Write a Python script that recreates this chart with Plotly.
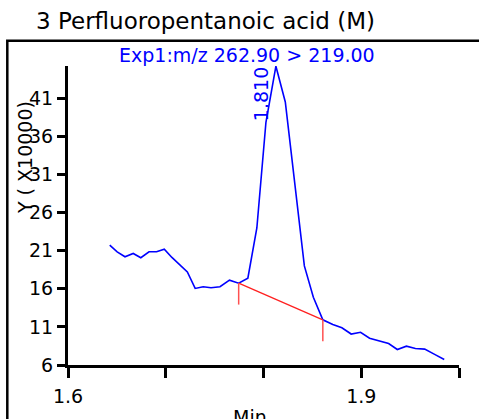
import plotly.graph_objects as go

# ---- data (intensity in units of 10000) ----
time_min = [1.6427, 1.6503, 1.6583, 1.6667, 1.6745, 1.6829, 1.6906, 1.6985, 1.7063,
            1.7142, 1.7221, 1.7301, 1.7383, 1.7463, 1.7555, 1.7652, 1.7746, 1.7840,
            1.7932, 1.8025, 1.8127, 1.8223, 1.8317, 1.8418, 1.8510, 1.8607, 1.8709,
            1.8802, 1.8897, 1.8993, 1.9085, 1.9188, 1.9280, 1.9369, 1.9462, 1.9554,
            1.9649, 1.9746, 1.9849]
intensity = [21.71, 20.84, 20.19, 20.62, 20.06, 20.84, 20.84, 21.19, 20.10,
             19.19, 18.21, 16.04, 16.26, 16.13, 16.26, 17.12, 16.73, 17.38,
             23.96, 37.82, 45.17, 40.49, 29.81, 18.99, 14.87, 11.92, 11.32,
             10.88, 10.06, 10.29, 9.51, 9.19, 8.81, 8.03, 8.47, 8.16,
             8.08, 7.43, 6.73]
baseline_t = [1.7746, 1.8607]
baseline_y = [16.73, 11.92]
marker_bottom = [13.92, 9.12]
peak_label = "1.810"
peak_t = 1.8127
peak_y = 45.17
y_ticks = [6, 11, 16, 21, 26, 31, 36, 41]
x_ticks = [1.6, 1.7, 1.8, 1.9, 2.0]
x_ticktext = ["1.6", "", "", "1.9", ""]

title_text = "3 Perfluoropentanoic acid (M)"
sub_text = "Exp1:m/z 262.90 > 219.00"
y_title = "Y ( X10000)"
x_title = "Min"

FONT = "DejaVu Sans"
W, H = 479, 419
ML, MR, MT, MB = 68, 20, 66, 51
PW, PH = W - ML - MR, H - MT - MB

def px_x(p):
    return (p - ML) / PW

def px_y(p):
    return (H - MB - p) / PH

fig = go.Figure()
fig.add_trace(go.Scatter(x=time_min, y=intensity, mode="lines",
                         line=dict(color="#0000ff", width=1.6), hoverinfo="skip"))
fig.add_trace(go.Scatter(x=baseline_t, y=baseline_y, mode="lines",
                         line=dict(color="#ff2020", width=1.3), hoverinfo="skip"))
for t, y0, y1 in zip(baseline_t, baseline_y, marker_bottom):
    fig.add_trace(go.Scatter(x=[t, t], y=[y0, y1], mode="lines",
                             line=dict(color="#ff5050", width=1.5), hoverinfo="skip"))

fig.update_layout(
    width=W, height=H, showlegend=False,
    margin=dict(l=ML, r=MR, t=MT, b=MB),
    paper_bgcolor="white", plot_bgcolor="white",
    font=dict(family=FONT, size=19, color="black"),
    xaxis=dict(range=[1.6, 2.0], showgrid=False, zeroline=False, showline=True,
               linecolor="black", linewidth=3, ticks="outside", ticklen=10,
               tickwidth=3, tickcolor="black", tickvals=x_ticks, ticktext=x_ticktext,
               tickfont=dict(size=19, family=FONT), ticklabelstandoff=2),
    yaxis=dict(range=[6, 45.2], showgrid=False, zeroline=False, showline=True,
               linecolor="black", linewidth=3, ticks="outside", ticklen=8,
               tickwidth=2.5, tickcolor="black", tickvals=y_ticks,
               tickfont=dict(size=19, family=FONT), ticklabelstandoff=0),
)

# frame rectangle (extends past right/bottom edge)
fig.add_shape(type="rect", xref="paper", yref="paper",
              x0=px_x(7.3), x1=px_x(490), y0=px_y(430), y1=px_y(40.5),
              line=dict(color="black", width=2.5), fillcolor="rgba(0,0,0,0)", layer="above")

fig.add_annotation(text=title_text, xref="paper", yref="paper", x=px_x(34), y=px_y(21),
                   xanchor="left", yanchor="middle", showarrow=False,
                   font=dict(size=23, family=FONT, color="black"))
fig.add_annotation(text=sub_text, xref="paper", yref="paper", x=px_x(247), y=px_y(55),
                   xanchor="center", yanchor="middle", showarrow=False,
                   font=dict(size=19, family=FONT, color="#0000ff"))
fig.add_annotation(text=y_title, xref="paper", yref="paper", x=px_x(25), y=px_y(159),
                   xanchor="center", yanchor="middle", showarrow=False, textangle=-90,
                   font=dict(size=19, family=FONT, color="black"))
fig.add_annotation(text=x_title, xref="paper", yref="paper", x=px_x(250), y=px_y(407),
                   xanchor="center", yanchor="top", showarrow=False,
                   font=dict(size=19, family=FONT, color="black"))
fig.add_annotation(text=peak_label, x=peak_t, y=peak_y, xref="x", yref="y",
                   xanchor="center", yanchor="middle", showarrow=False, textangle=-90,
                   xshift=-15, yshift=-28,
                   font=dict(size=19, family=FONT, color="#0000ff"))

fig.write_html("out.html", config={"displayModeBar": False},
               post_script="document.body.style.margin='0';")
